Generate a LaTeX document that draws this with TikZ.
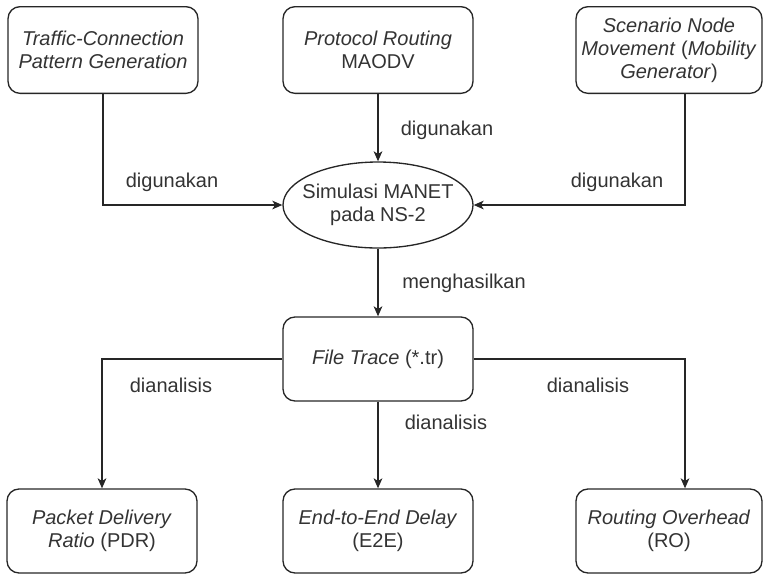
\documentclass[tikz,border=0pt]{standalone}
\usepackage{fontspec}
\setmainfont{Liberation Sans}
\usetikzlibrary{positioning,arrows.meta,shapes.geometric}

\begin{document}
\begin{tikzpicture}[
    x=0.75pt, y=-0.75pt,
    font=\fontsize{15}{17.3}\selectfont,
    box/.style={draw=black!85, line width=1pt, rounded corners=9pt, minimum width=142.5pt,
                minimum height=65pt, align=center, inner sep=1pt, text=black!80},
    sim/.style={draw=black!85, line width=1pt, ellipse, minimum width=142.5pt,
                minimum height=64.5pt, inner sep=0pt},
    lbl/.style={text=black!80, inner sep=1pt},
    arr/.style={-{Stealth[length=7.5pt,width=6.5pt,inset=2pt]}, line width=1pt, draw=black!85},
  ]
  \useasboundingbox (0,0) rectangle (763,576);
  % Inputs
  \node[box] (tc) at (103,50) {\textit{Traffic-Connection}\\\textit{Pattern Generation}};
  \node[box] (pr) at (378,50) {\textit{Protocol Routing}\\MAODV};
  \node[box, minimum width=139.5pt] (sn) at (669,50)
        {\textit{Scenario Node}\\\textit{Movement} (\textit{Mobility}\\\textit{Generator})};
  % Simulation
  \node[sim, label={[lbl, align=center]center:Simulasi MANET\\pada NS-2}] (sim) at (378,205) {};
  % Trace
  \node[box, minimum height=63pt] (ft) at (378,359) {\textit{File Trace} (*.tr)};
  % Metrics
  \node[box, minimum height=63pt] (pdr) at (102,531) {\textit{Packet Delivery}\\\textit{Ratio} (PDR)};
  \node[box, minimum height=63pt] (e2e) at (378,531) {\textit{End-to-End Delay}\\(E2E)};
  \node[box, minimum height=63pt, minimum width=139.5pt] (ro) at (669,531)
        {\textit{Routing Overhead}\\(RO)};

  \draw[arr] (tc.south) |- (sim.west);
  \draw[arr] (pr.south) -- (sim.north);
  \draw[arr] ([xshift=12pt]sn.south) |- (sim.east);
  \draw[arr] (sim.south) -- (ft.north);
  \draw[arr] (ft.west) -| (pdr.north);
  \draw[arr] (ft.south) -- (e2e.north);
  \draw[arr] (ft.east) -| ([xshift=12pt]ro.north);

  % Connector labels
  \node[lbl] (l1) at (172,182) {digunakan};
  \node[lbl] (l2) at (447,130) {digunakan};
  \node[lbl] (l3) at (617,182) {digunakan};
  \node[lbl] (l4) at (464,283) {menghasilkan};
  \node[lbl] (l5) at (171,385) {dianalisis};
  \node[lbl] (l6) at (446,422) {dianalisis};
  \node[lbl] (l7) at (588,385) {dianalisis};
\end{tikzpicture}
\end{document}
